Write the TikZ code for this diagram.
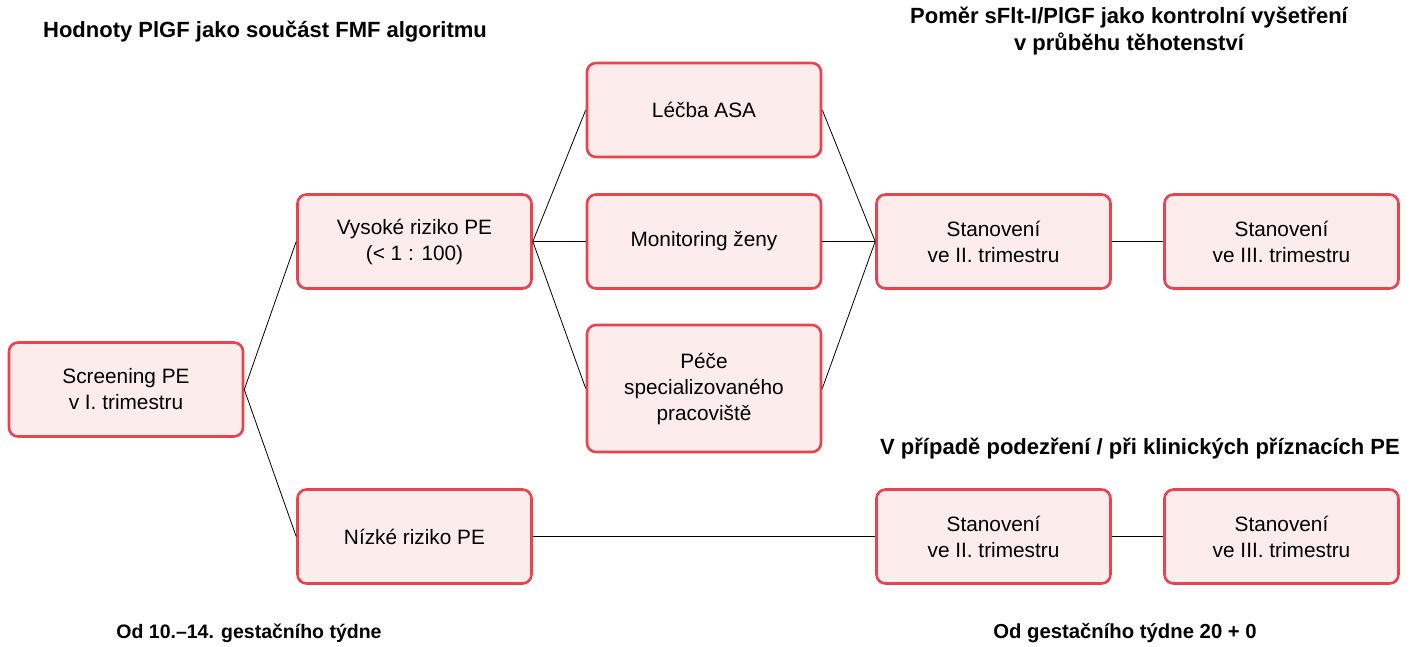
\documentclass[tikz,border=0pt]{standalone}
\usepackage{fontspec}
\setmainfont{Liberation Sans}
\definecolor{boxred}{HTML}{E8434F}
\definecolor{boxfill}{HTML}{FDECEC}
\begin{document}
\begin{tikzpicture}[x=1pt,y=-1pt,
  box/.style={draw=boxred, line width=2.6pt, fill=boxfill, rounded corners=9pt,
    minimum width=234pt, minimum height=94pt, align=center, inner sep=0pt,
    font=\fontsize{20.8}{26}\selectfont},
  title/.style={align=center, font=\fontsize{22}{27}\selectfont\bfseries, inner sep=0pt},
  foot/.style={align=center, font=\fontsize{19.5}{27}\selectfont\bfseries, inner sep=0pt},
  link/.style={draw=black, line width=0.8pt}]
\useasboundingbox (0,0) rectangle (1422,646);
\node[box] (scr) at (126,389.5) {Screening PE\\v I. trimestru};
\node[box] (hi) at (414.5,241.5) {Vysoké riziko PE\\(< 1 : 100)};
\node[box] (lo) at (414.5,536.5) {Nízké riziko PE};
\node[box] (asa) at (704,110) {Léčba ASA};
\node[box] (mon) at (704,241.5) {Monitoring ženy};
\node[box, minimum height=127pt] (pec) at (704,388.5) {Péče\\specializovaného\\pracoviště};
\node[box] (s2a) at (993.5,241.5) {Stanovení\\ve II. trimestru};
\node[box] (s3a) at (1281.5,241.5) {Stanovení\\ve III. trimestru};
\node[box] (s2b) at (993.5,536.5) {Stanovení\\ve II. trimestru};
\node[box] (s3b) at (1281.5,536.5) {Stanovení\\ve III. trimestru};

\node[title] (t1) at (265,32) {Hodnoty PlGF jako součást FMF algoritmu};
\node[title] (t2) at (1129,31) {Poměr sFlt-I/PlGF jako kontrolní vyšetření\\v průběhu těhotenství};
\node[title] (t3) at (1140,449) {V případě podezření / při klinických příznacích PE};
\node[foot] (t4) at (249,633) {Od 10.–14. gestačního týdne};
\node[foot, font=\fontsize{20.3}{27}\selectfont\bfseries] (t5) at (1125,633) {Od gestačního týdne 20 + 0};

\draw[link] (scr.east) -- (hi.west);
\draw[link] (scr.east) -- (lo.west);
\draw[link] (hi.east) -- (asa.west);
\draw[link] (hi.east) -- (mon.west);
\draw[link] (hi.east) -- (pec.west);
\draw[link] (asa.east) -- (s2a.west);
\draw[link] (mon.east) -- (s2a.west);
\draw[link] (pec.east) -- (s2a.west);
\draw[link] (s2a.east) -- (s3a.west);
\draw[link] (lo.east) -- (s2b.west);
\draw[link] (s2b.east) -- (s3b.west);
\end{tikzpicture}
\end{document}
